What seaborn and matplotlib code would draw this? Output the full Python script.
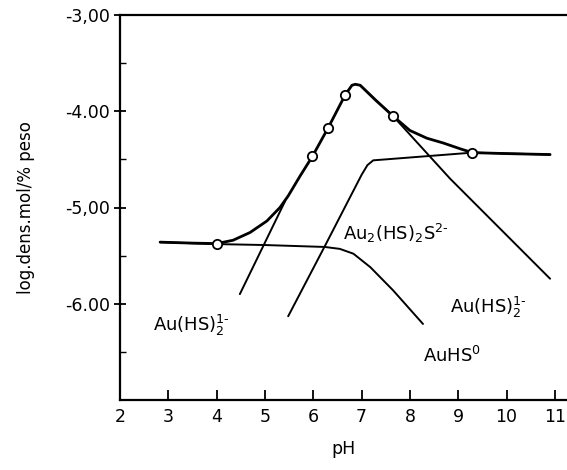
import numpy as np
import pandas as pd
import matplotlib
matplotlib.use("Agg")
import matplotlib.pyplot as plt
import seaborn as sns

# ---- data ----
total_x = [2.83, 3.5, 4.0, 4.34, 4.69, 5.04, 5.31, 5.48, 5.73, 5.98, 6.31, 6.66, 6.8, 6.87, 6.97, 7.3, 7.65, 8.0, 8.35, 8.69, 9.04, 9.29, 10.0, 10.9]
total_y = [-5.36, -5.37, -5.375, -5.34, -5.26, -5.14, -5.0, -4.88, -4.67, -4.47, -4.17, -3.83, -3.73, -3.72, -3.73, -3.89, -4.05, -4.2, -4.28, -4.33, -4.39, -4.43, -4.44, -4.45]

marker_x = [4.0, 5.98, 6.31, 6.66, 7.65, 9.29]
marker_y = [-5.375, -4.47, -4.17, -3.83, -4.05, -4.43]

auhs2_left_x = [4.48, 5.42]
auhs2_left_y = [-5.9, -4.93]

auhs2_right_x = [6.97, 7.65, 8.83, 10.9]
auhs2_right_y = [-3.73, -4.05, -4.7, -5.74]

au2_x = [5.48, 6.24, 7.0, 7.12, 7.24, 7.5, 9.29, 10.9]
au2_y = [-6.13, -5.4, -4.66, -4.56, -4.51, -4.50, -4.43, -4.45]

auhs0_x = [2.83, 4.0, 5.0, 6.24, 6.55, 6.83, 7.18, 7.65, 8.27]
auhs0_y = [-5.36, -5.38, -5.39, -5.41, -5.43, -5.48, -5.62, -5.86, -6.21]

x_ticks = [2, 3, 4, 5, 6, 7, 8, 9, 10, 11]
y_ticks = [-3, -4, -5, -6]
y_tick_labels = ["-3,00", "-4.00", "-5,00", "-6.00"]

sns.set_theme(style="white")
plt.rcParams['font.family'] = ['DejaVu Sans']
plt.rcParams['mathtext.default'] = 'regular'
plt.rcParams['text.color'] = 'black'
plt.rcParams['axes.labelcolor'] = 'black'
plt.rcParams['xtick.color'] = 'black'
plt.rcParams['ytick.color'] = 'black'

fig = plt.figure(figsize=(5.67, 4.70), dpi=100)
ax = fig.add_axes([120/567, 1 - 400/470, 1 - 120/567, 385/470])

def draw(xs, ys, lw):
    df = pd.DataFrame({"pH": xs, "v": ys})
    sns.lineplot(data=df, x="pH", y="v", ax=ax, color="black", linewidth=lw,
                 sort=False, estimator=None)

draw(auhs0_x, auhs0_y, 1.4)
draw(au2_x, au2_y, 1.4)
draw(auhs2_left_x, auhs2_left_y, 1.4)
draw(auhs2_right_x, auhs2_right_y, 1.4)
draw(total_x, total_y, 2.0)

mdf = pd.DataFrame({"pH": marker_x, "v": marker_y})
sns.scatterplot(data=mdf, x="pH", y="v", ax=ax, s=45, facecolor="white",
                edgecolor="black", linewidth=1.3, zorder=5)

ax.set_xlim(2, 11.25)
ax.set_ylim(-7, -3)
ax.set_xticks(x_ticks)
ax.set_xticklabels([str(t) for t in x_ticks], fontsize=12.5)
ax.set_yticks(y_ticks)
ax.set_yticklabels(y_tick_labels, fontsize=12.5)
ax.set_yticks([-3.5, -4.5, -5.5, -6.5], minor=True)
ax.tick_params(axis="x", direction="in", length=7, width=1.3, bottom=True, pad=6, colors="black")
ax.tick_params(axis="y", which="major", direction="inout", length=8, width=1.3, left=True, pad=3, colors="black")
ax.tick_params(axis="y", which="minor", direction="in", length=4, width=1.0, left=True, colors="black")

ax.spines["right"].set_visible(False)
for s in ["left", "bottom", "top"]:
    ax.spines[s].set_color("black")
    ax.spines[s].set_linewidth(1.6)

ax.set_xlabel("pH", fontsize=12.5, labelpad=10, color="black")
ax.set_ylabel("log.dens.mol/% peso", fontsize=12, labelpad=22, color="black")

ax.text(2.68, -6.23, r"Au(HS)$_2^{1\text{-}}$", fontsize=13, ha="left", va="center", color="black")
ax.text(6.62, -5.27, r"Au$_2$(HS)$_2$S$^{2\text{-}}$", fontsize=13, ha="left", va="center", color="black")
ax.text(8.83, -6.04, r"Au(HS)$_2^{1\text{-}}$", fontsize=13, ha="left", va="center", color="black")
ax.text(8.27, -6.54, r"AuHS$^0$", fontsize=13, ha="left", va="center", color="black")

fig.savefig("out.png", dpi=100)
